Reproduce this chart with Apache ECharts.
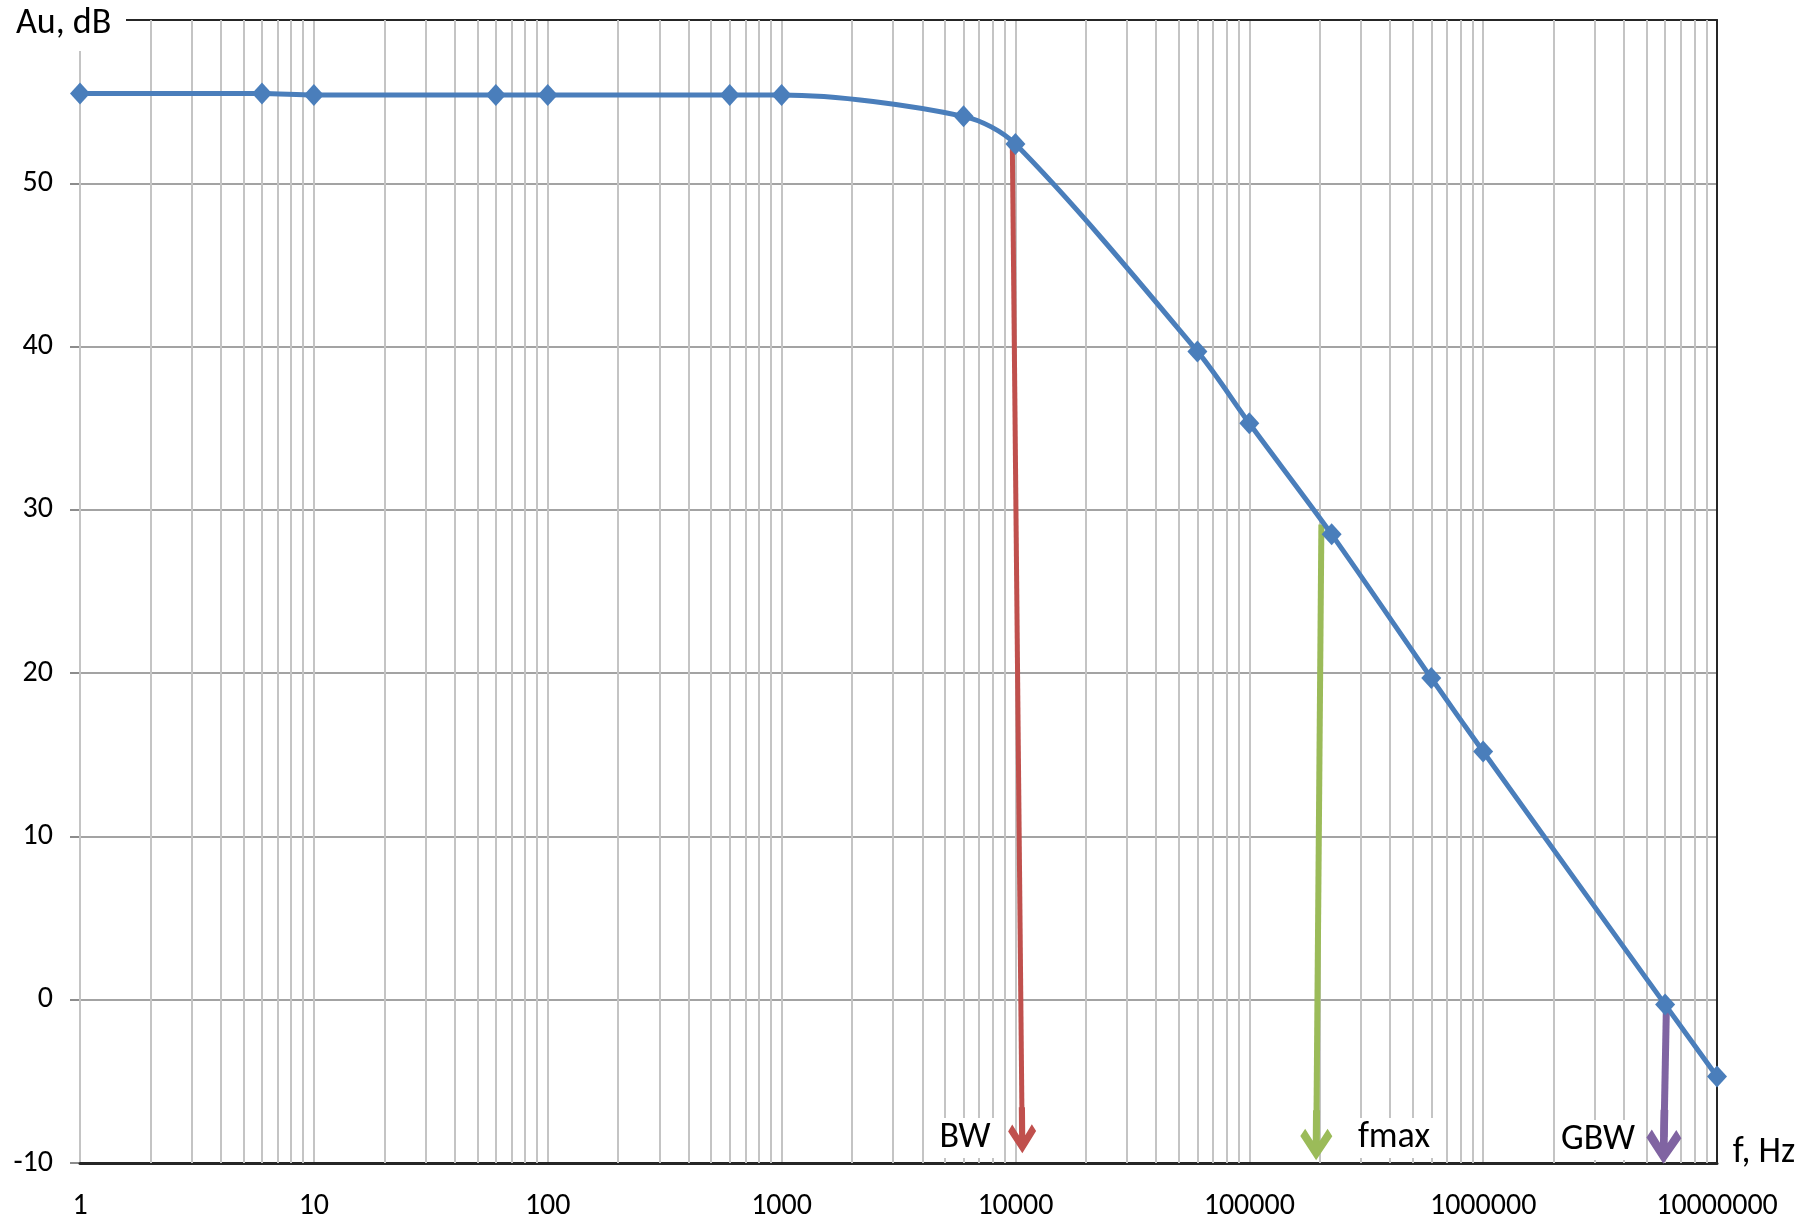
<!DOCTYPE html>
<html><head><meta charset="utf-8">
<script src="https://cdn.jsdelivr.net/npm/echarts@6/dist/echarts.min.js"></script>
<style>html,body{margin:0;padding:0;background:#fff}#c{width:1806px;height:1225px}</style>
</head><body><div id="c"></div>
<script>
// ---- data ----
const freqs = [1, 6, 10, 60, 100, 600, 1000, 6000, 10000, 60000, 100000, 225000, 600000, 1000000, 6000000, 10000000];
const gainDb = [55.5, 55.5, 55.4, 55.4, 55.4, 55.4, 55.4, 54.1, 52.4, 39.7, 35.3, 28.5, 19.7, 15.2, -0.3, -4.7];
const xTickLabels = ['1', '10', '100', '1000', '10000', '100000', '1000000', '10000000'];
const decades = [1, 10, 100, 1000, 10000, 100000, 1000000];
const minorMultipliers = [2, 3, 4, 5, 6, 7, 8, 9];
const bwArrow = [[9700, 52.3], [10680, -8.0]];
const fmaxArrow = [[203400, 29.1], [193500, -8.3]];
const gbwArrow = [[6080000, -0.2], [5930000, -8.4]];
const annotationTexts = ['BW', 'fmax', 'GBW'];
const xAxisTitle = 'f, Hz';
const yAxisTitle = 'Au, dB';

const FONT = 'Carlito, Lato, sans-serif';
const chart = echarts.init(document.getElementById('c'), null, {renderer: 'canvas'});

const minorLines = [];
decades.forEach(d => minorMultipliers.forEach(m => minorLines.push({xAxis: d * m})));

const arrowPath = 'path://M50,0 L100,48 L85,63 L61,39 L61,100 L39,100 L39,39 L15,63 L0,48 Z';
function arrow(pts, color, width, head) {
  return [
    {coord: pts[0], symbol: 'none', lineStyle: {color: color, width: width, type: 'solid'}},
    {coord: pts[1], symbol: arrowPath, symbolSize: head, itemStyle: {color: color}, lineStyle: {color: color, width: width, type: 'solid'}}
  ];
}
const ANN = '36px ' + FONT;

const option = {
  animation: false,
  backgroundColor: '#fff',
  grid: {left: 80, right: 89, top: 20, bottom: 62, containLabel: false},
  xAxis: [{
    type: 'log', logBase: 10, min: 1, max: 10000000, splitNumber: 7, z: 2,
    axisLine: {show: true, onZero: false, lineStyle: {color: '#262626', width: 3}},
    axisTick: {show: false},
    axisLabel: {margin: 28, fontSize: 30, color: '#000', fontFamily: FONT,
      formatter: v => xTickLabels[Math.round(Math.log10(v))]},
    splitLine: {show: true, lineStyle: {color: '#c4c4c4', width: 2}}
  }, {
    type: 'log', logBase: 10, min: 1, max: 10000000, position: 'top', z: 3,
    axisLine: {show: true, onZero: false, lineStyle: {color: '#262626', width: 2}},
    axisTick: {show: false}, axisLabel: {show: false}, splitLine: {show: false}
  }],
  yAxis: [{
    type: 'value', min: -10, max: 60, interval: 10, z: 1,
    axisLine: {show: true, onZero: false, lineStyle: {color: '#8c8c8c', width: 2}},
    axisTick: {show: true, length: 10, lineStyle: {color: '#8c8c8c', width: 2}},
    axisLabel: {margin: 27, fontSize: 30, color: '#000', fontFamily: FONT,
      formatter: v => (v === 60 ? '' : String(v))},
    splitLine: {show: true, lineStyle: {color: '#a3a3a3', width: 2}}
  }, {
    type: 'value', min: -10, max: 60, interval: 10, position: 'right', z: 3,
    axisLine: {show: true, onZero: false, lineStyle: {color: '#262626', width: 2}},
    axisTick: {show: false}, axisLabel: {show: false}, splitLine: {show: false}
  }],
  series: [{
    type: 'line', data: [], z: 1, silent: true,
    markLine: {silent: true, symbol: ['none', 'none'], animation: false,
      label: {show: false}, lineStyle: {color: '#c4c4c4', width: 2, type: 'solid'},
      data: minorLines}
  }, {
    type: 'line', data: [], z: 4, silent: true,
    markLine: {silent: true, animation: false, symbol: ['none', 'none'], label: {show: false},
      data: [
        arrow(bwArrow, '#C0504D', 5, [28, 46]),
        arrow(fmaxArrow, '#9BBB59', 6, [32, 50]),
        arrow(gbwArrow, '#8064A2', 7, [35, 54])
      ]}
  }, {
    type: 'line', z: 5,
    data: freqs.map((f, i) => [f, gainDb[i]]),
    smooth: 0.3,
    symbol: 'diamond', symbolSize: [20, 22],
    itemStyle: {color: '#4A7EBB'},
    lineStyle: {color: '#4A7EBB', width: 5}
  }],
  graphic: [
    {type: 'rect', z: 100, shape: {x: 0, y: 0, width: 126, height: 51}, style: {fill: '#fff'}},
    {type: 'text', z: 101, style: {text: yAxisTitle, x: 16, y: 24, align: 'left', verticalAlign: 'middle', fill: '#000', font: ANN}},
    {type: 'text', z: 101, style: {text: annotationTexts[0], x: 965, y: 1138, align: 'center', verticalAlign: 'middle', fill: '#000', font: ANN, backgroundColor: '#fff', padding: [2, 4]}},
    {type: 'text', z: 101, style: {text: annotationTexts[1], x: 1394, y: 1138, align: 'center', verticalAlign: 'middle', fill: '#000', font: ANN, backgroundColor: '#fff', padding: [2, 4]}},
    {type: 'text', z: 101, style: {text: annotationTexts[2], x: 1598, y: 1140, align: 'center', verticalAlign: 'middle', fill: '#000', font: ANN, backgroundColor: '#fff', padding: [2, 4]}},
    {type: 'text', z: 101, style: {text: xAxisTitle, x: 1764, y: 1153, align: 'center', verticalAlign: 'middle', fill: '#000', font: ANN}}
  ]
};
chart.setOption(option);
</script>
</body></html>
